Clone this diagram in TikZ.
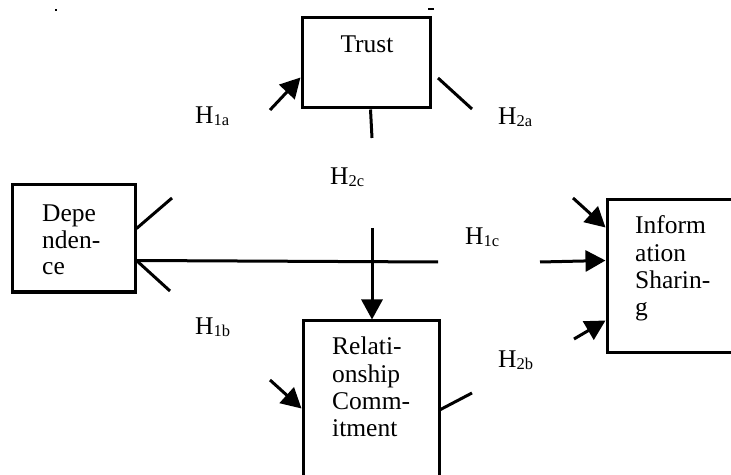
\documentclass[tikz,border=0pt]{standalone}
\usepackage{fontspec}
\setmainfont{Liberation Serif}
\usetikzlibrary{arrows.meta,calc}

\tikzset{
  box/.style={draw, line width=3bp, rectangle, inner sep=0pt},
  wire/.style={line width=3bp},
  arr/.style={wire, -{Triangle[length=20bp,width=21bp]}},
  boxtext/.style={anchor=base west, inner sep=0pt, font=\fontsize{25.5bp}{27.3bp}\selectfont},
  hyp/.style={anchor=base west, inner sep=0pt, font=\fontsize{25.5bp}{25.5bp}\selectfont},
}
% hypothesis label: H with a lowered index
\newcommand{\hlabel}[1]{H\raisebox{-2bp}{\fontsize{16.5bp}{16.5bp}\selectfont #1}}

\begin{document}
\begin{tikzpicture}[x=1bp,y=-1bp]
\useasboundingbox (0,0) rectangle (731,475);

% stray marks along the top edge
\fill (55,9) rectangle (57,11);
\fill (428,8) rectangle (434,10.5);

% construct boxes
\node[box, minimum width=128bp, minimum height=90bp]  (trust) at (366,63) {};
\node[box, minimum width=122bp, minimum height=107bp] (dep)   at (74,238.5) {};
\node[box, minimum width=136bp, minimum height=179bp] (rc)    at (371,410.5) {};
\node[box, minimum width=143bp, minimum height=152bp] (is)    at (678.5,276) {};

% box texts
\node[boxtext, anchor=base] (trustT) at (367,53) {Trust};
\node[boxtext, font=\fontsize{25.5bp}{26.3bp}\selectfont] (depT) at (42,222)
  {\begin{tabular}[t]{@{}l@{}}Depe\\nden-\\ce\end{tabular}};
\node[boxtext] (rcT) at (332,355)
  {\begin{tabular}[t]{@{}l@{}}Relati-\\onship\\Comm-\\itment\end{tabular}};
\node[boxtext] (isT) at (635,234)
  {\begin{tabular}[t]{@{}l@{}}Inform\\ation\\Sharin-\\g\end{tabular}};

% hypothesis labels
\node[hyp] (h1aL) at (195,124) {\hlabel{1a}};
\node[hyp] (h2aL) at (498,125) {\hlabel{2a}};
\node[hyp] (h2cL) at (330,185) {\hlabel{2c}};
\node[hyp] (h1cL) at (465,245) {\hlabel{1c}};
\node[hyp] (h1bL) at (195,335) {\hlabel{1b}};
\node[hyp] (h2bL) at (498,367) {\hlabel{2b}};

% free ends of the connector pieces
\coordinate (h1aS) at (270,110);
\coordinate (h2aS) at (438,78);
\coordinate (h2aE) at (472,109);
\coordinate (h2cE) at (372,138);
\coordinate (h2cS) at (372,228);
\coordinate (depUp) at (172,198);
\coordinate (depLo) at (170,291);
\coordinate (h1cE) at (438,262);
\coordinate (h1cS) at (540,262);
\coordinate (h1bS) at (270,380);
\coordinate (h2bE) at (472,393);
\coordinate (isUp) at (573,198);
\coordinate (isLo) at (574,339);

% Trust
\draw[arr]  (h1aS) -- ($(trust.north west)+(0,61)$);
\draw[wire] (h2aS) -- (h2aE);
\draw[wire] ($(trust.south west)+(70,0)$) -- (h2cE);

% Dependence
\draw[wire] ($(dep.north east)+(0,45)$) -- (depUp);
\draw[wire] ($(dep.north east)+(0,77)$) -- (h1cE);
\draw[wire] ($(dep.north east)+(0,77)$) -- (depLo);

% Relationship Commitment
\draw[arr]  (h2cS) -- (h2cS |- rc.north);
\draw[arr]  (h1bS) -- ($(rc.north west)+(0,89)$);
\draw[wire] ($(rc.north east)+(0,90)$) -- (h2bE);

% Information Sharing
\draw[arr] (isUp) -- ($(is.north west)+(0,29)$);
\draw[arr] (h1cS) -- ($(is.north west)+(0,62)$);
\draw[arr] (isLo) -- ($(is.north west)+(0,122)$);
\end{tikzpicture}
\end{document}
